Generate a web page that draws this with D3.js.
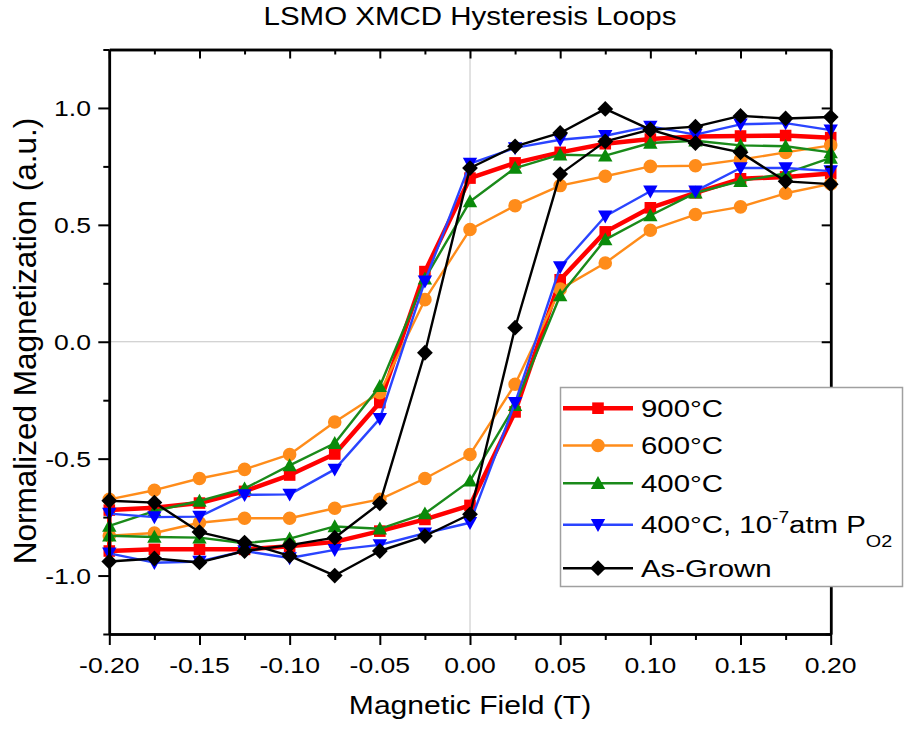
<!DOCTYPE html>
<html>
<head>
<meta charset="utf-8">
<script src="https://cdn.jsdelivr.net/npm/d3@7/dist/d3.min.js"></script>
<style>
  html, body { margin: 0; padding: 0; background: #fff; }
  svg { display: block; }
  text { font-family: Arial, "Liberation Sans", sans-serif; fill: #000; }
</style>
</head>
<body>
<svg id="chart" width="904" height="730"></svg>
<script>
// ---------------- DATA ----------------
const fieldValues = [-0.2, -0.175, -0.15, -0.125, -0.1, -0.075, -0.05, -0.025, 0,
                     0.025, 0.05, 0.075, 0.1, 0.125, 0.15, 0.175, 0.2];

// Each series: branch switching at negative field ("down") and at positive field ("up"),
// both listed in order of increasing field.
const s900Down = [-0.72, -0.71, -0.69, -0.64, -0.57, -0.48, -0.26, 0.30, 0.70, 0.765, 0.81, 0.847, 0.867, 0.878, 0.88, 0.882, 0.873];
const s900Up   = [-0.895, -0.888, -0.888, -0.888, -0.875, -0.856, -0.81, -0.76, -0.70, -0.30, 0.265, 0.47, 0.573, 0.637, 0.697, 0.705, 0.72];

const s600Down = [-0.674, -0.635, -0.585, -0.546, -0.482, -0.343, -0.218, 0.18, 0.48, 0.582, 0.668, 0.708, 0.75, 0.753, 0.779, 0.81, 0.84];
const s600Up   = [-0.83, -0.818, -0.774, -0.755, -0.755, -0.712, -0.674, -0.585, -0.482, -0.182, 0.225, 0.337, 0.477, 0.544, 0.577, 0.635, 0.675];

const s400Down = [-0.788, -0.724, -0.681, -0.628, -0.529, -0.434, -0.19, 0.27, 0.60, 0.743, 0.80, 0.796, 0.85, 0.86, 0.84, 0.836, 0.81];
const s400Up   = [-0.83, -0.835, -0.838, -0.862, -0.842, -0.79, -0.80, -0.735, -0.595, -0.272, 0.198, 0.437, 0.54, 0.637, 0.687, 0.72, 0.786];

const s400PDown = [-0.735, -0.75, -0.748, -0.655, -0.653, -0.546, -0.329, 0.259, 0.762, 0.829, 0.864, 0.881, 0.921, 0.886, 0.93, 0.935, 0.905];
const s400PUp   = [-0.905, -0.945, -0.94, -0.895, -0.925, -0.89, -0.869, -0.819, -0.774, -0.261, 0.32, 0.537, 0.644, 0.644, 0.743, 0.743, 0.73];

const sAGDown = [-0.94, -0.927, -0.944, -0.895, -0.87, -0.838, -0.691, -0.047, 0.743, 0.836, 0.893, 0.996, 0.907, 0.85, 0.81, 0.686, 0.674];
const sAGUp   = [-0.68, -0.688, -0.814, -0.859, -0.916, -1.0, -0.895, -0.831, -0.738, 0.06, 0.717, 0.857, 0.907, 0.92, 0.966, 0.955, 0.961];

const seriesLabels = ["900°C", "600°C", "400°C", "400°C, 10-7atm PO2", "As-Grown"];

const xTickValues = [-0.2, -0.15, -0.1, -0.05, 0, 0.05, 0.1, 0.15, 0.2];
const xTickLabels = ["-0.20", "-0.15", "-0.10", "-0.05", "0.00", "0.05", "0.10", "0.15", "0.20"];
const xMinorTicks = [-0.175, -0.125, -0.075, -0.025, 0.025, 0.075, 0.125, 0.175];
const yTickValues = [-1.0, -0.5, 0.0, 0.5, 1.0];
const yTickLabels = ["-1.0", "-0.5", "0.0", "0.5", "1.0"];
const yMinorTicks = [-1.25, -0.75, -0.25, 0.25, 0.75, 1.25];

// ---------------- STYLE ----------------
const colors  = ["#ff0000", "#ff8c1a", "#0a8a0a", "#0000ff", "#000000"];
const lineCol = ["#ff0000", "#ff8c1a", "#1a8a1a", "#2a44ff", "#000000"];
const lineW   = [4.5, 2.4, 2.4, 2.4, 2.4];
const STRETCH = 1.18;

// custom marker shapes (size = half-extent in px)
const shapeSquare = { draw(c, r) { c.rect(-r, -r, 2 * r, 2 * r); } };
const shapeCircle = { draw(c, r) { c.moveTo(r, 0); c.arc(0, 0, r, 0, 2 * Math.PI); } };
const shapeTriUp = { draw(c, r) { c.moveTo(0, -r); c.lineTo(r, r * 0.8); c.lineTo(-r, r * 0.8); c.closePath(); } };
const shapeTriDown = { draw(c, r) { c.moveTo(0, r); c.lineTo(r, -r * 0.8); c.lineTo(-r, -r * 0.8); c.closePath(); } };
const shapeDiamond = { draw(c, r) { c.moveTo(0, -r); c.lineTo(r, 0); c.lineTo(0, r); c.lineTo(-r, 0); c.closePath(); } };
const shapes = [shapeSquare, shapeCircle, shapeTriUp, shapeTriDown, shapeDiamond];
const shapeSizes = [5.8, 6.8, 7.2, 7.2, 7.9];

const downs = [s900Down, s600Down, s400Down, s400PDown, sAGDown];
const ups   = [s900Up, s600Up, s400Up, s400PUp, sAGUp];

const series = seriesLabels.map((name, i) => {
  const down = fieldValues.map((f, k) => [f, downs[i][k]]).reverse();
  const up = fieldValues.map((f, k) => [f, ups[i][k]]);
  return { name, i, pts: down.concat(up) };
});

// ---------------- CHART ----------------
const svg = d3.select("#chart");
const x = d3.scaleLinear().domain([-0.2, 0.2]).range([109.3, 830.7]);
const y = d3.scaleLinear().domain([-1.25, 1.25]).range([634, 49.5]);

// zero lines
svg.append("line").attr("x1", x(0)).attr("x2", x(0)).attr("y1", y(1.25)).attr("y2", y(-1.25))
  .attr("stroke", "#c4c4c4").attr("stroke-width", 1);
svg.append("line").attr("x1", x(-0.2)).attr("x2", x(0.2)).attr("y1", y(0)).attr("y2", y(0))
  .attr("stroke", "#c4c4c4").attr("stroke-width", 1);

// series
const line = d3.line().x(d => x(d[0])).y(d => y(d[1]));
series.forEach(s => {
  const g = svg.append("g");
  g.append("path").attr("d", line(s.pts)).attr("fill", "none")
    .attr("stroke", lineCol[s.i]).attr("stroke-width", lineW[s.i]).attr("stroke-linejoin", "round");
  const sym = d3.symbol().type(shapes[s.i]).size(shapeSizes[s.i]);
  g.selectAll("path.m").data(s.pts).join("path").attr("class", "m")
    .attr("d", sym)
    .attr("transform", d => `translate(${x(d[0])},${y(d[1])})`)
    .attr("fill", colors[s.i]);
});

// axes
function styleAxis(g) {
  g.select(".domain").attr("stroke", "#000").attr("stroke-width", 2.5);
  g.selectAll(".tick line").attr("stroke", "#000").attr("stroke-width", 2);
}
svg.append("g").attr("transform", `translate(0,${y(-1.25)})`)
  .call(d3.axisBottom(x).tickValues(xTickValues).tickSize(11).tickSizeOuter(0).tickFormat("")).call(styleAxis);
svg.append("g").attr("transform", `translate(0,${y(-1.25)})`)
  .call(d3.axisBottom(x).tickValues(xMinorTicks).tickSize(6).tickSizeOuter(0).tickFormat("")).call(styleAxis);
svg.append("g").attr("transform", `translate(0,${y(1.25)})`)
  .call(d3.axisTop(x).tickValues(xTickValues).tickSize(-9).tickSizeOuter(0).tickFormat("")).call(styleAxis);
svg.append("g").attr("transform", `translate(0,${y(1.25)})`)
  .call(d3.axisTop(x).tickValues(xMinorTicks).tickSize(-5).tickSizeOuter(0).tickFormat("")).call(styleAxis);
svg.append("g").attr("transform", `translate(${x(-0.2)},0)`)
  .call(d3.axisLeft(y).tickValues(yTickValues).tickSize(11).tickSizeOuter(0).tickFormat("")).call(styleAxis);
svg.append("g").attr("transform", `translate(${x(-0.2)},0)`)
  .call(d3.axisLeft(y).tickValues(yMinorTicks).tickSize(6).tickSizeOuter(0).tickFormat("")).call(styleAxis);
svg.append("g").attr("transform", `translate(${x(0.2)},0)`)
  .call(d3.axisRight(y).tickValues(yTickValues).tickSize(-9).tickSizeOuter(0).tickFormat("")).call(styleAxis);
svg.append("g").attr("transform", `translate(${x(0.2)},0)`)
  .call(d3.axisRight(y).tickValues(yMinorTicks).tickSize(-5).tickSizeOuter(0).tickFormat("")).call(styleAxis);

// tick labels
svg.append("g").selectAll("text").data(xTickValues).join("text")
  .attr("transform", d => `translate(${x(d)},673) scale(${STRETCH},1)`)
  .attr("text-anchor", "middle").attr("font-size", 22.5)
  .text((d, k) => xTickLabels[k]);
svg.append("g").selectAll("text").data(yTickValues).join("text")
  .attr("transform", d => `translate(91,${y(d) + 8}) scale(${STRETCH},1)`)
  .attr("text-anchor", "end").attr("font-size", 22.5)
  .text((d, k) => yTickLabels[k]);

// titles
svg.append("text").attr("transform", `translate(470,25) scale(${STRETCH},1)`)
  .attr("text-anchor", "middle").attr("font-size", 25).text("LSMO XMCD Hysteresis Loops");
svg.append("text").attr("transform", `translate(470,714) scale(${STRETCH},1)`)
  .attr("text-anchor", "middle").attr("font-size", 25.5).text("Magnetic Field (T)");
svg.append("text").attr("transform", `translate(36,341) rotate(-90)`)
  .attr("text-anchor", "middle").attr("font-size", 31.5).text("Normalized Magnetization (a.u.)");

// legend
const lg = svg.append("g");
lg.append("rect").attr("x", 560.5).attr("y", 387.5).attr("width", 342).attr("height", 199)
  .attr("fill", "#fff").attr("stroke", "#a0a0a0").attr("stroke-width", 1.5);
const rowBase = [416.7, 454, 491.7, 533.3, 576.7];
series.forEach(s => {
  const yb = rowBase[s.i];
  const ym = yb - 8.5;
  lg.append("line").attr("x1", 563).attr("x2", 633).attr("y1", ym).attr("y2", ym)
    .attr("stroke", lineCol[s.i]).attr("stroke-width", lineW[s.i]);
  lg.append("path").attr("d", d3.symbol().type(shapes[s.i]).size(shapeSizes[s.i])())
    .attr("transform", `translate(598,${ym})`).attr("fill", colors[s.i]);
  const t = lg.append("text").attr("transform", `translate(641,${yb}) scale(1.2,1)`)
    .attr("font-size", 24.5);
  if (s.i === 3) {
    t.append("tspan").text("400°C, 10");
    t.append("tspan").attr("font-size", 16).attr("dy", -10).text("-7");
    t.append("tspan").attr("dy", 10).text("atm P");
    t.append("tspan").attr("font-size", 16.5).attr("dy", 14).text("O2");
  } else {
    t.text(s.name);
  }
});
</script>
</body>
</html>
